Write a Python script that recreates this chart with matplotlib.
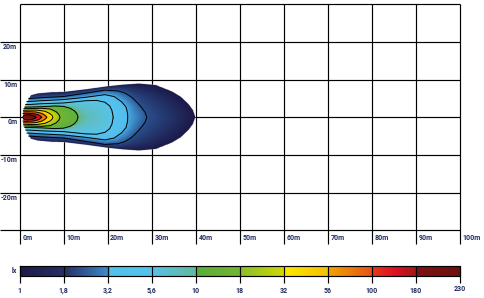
import numpy as np
import matplotlib
matplotlib.use("Agg")
import matplotlib.pyplot as plt
from matplotlib.colors import LinearSegmentedColormap

# ---------------- data ----------------
lux_levels = [1, 1.8, 3.2, 5.6, 10, 18, 32, 56, 100, 180, 230]
lux_labels = ["1", "1,8", "3,2", "5,6", "10", "18", "32", "56", "100", "180", "230"]

x_ticks = [0, 10, 20, 30, 40, 50, 60, 70, 80, 90, 100]
x_tick_labels = ["0m", "10m", "20m", "30m", "40m", "50m", "60m", "70m", "80m", "90m", "100m"]
y_ticks = [20, 10, 0, -10, -20]
y_tick_labels = ["20m", "10m", "0m", "-10m", "-20m"]

# isolux outlines: distance (m) and half width (m)
c1_x = [0, 2.4, 4, 7, 10, 15, 20, 23.2, 27, 30.8, 34.5, 36.5, 38.3, 39.3, 39.8]
c1_w = [5.8, 5.8, 6.3, 6.6, 6.7, 7.4, 8.2, 8.6, 8.9, 8.5, 6.8, 5.4, 3.4, 1.8, 0]
c18_x = [0, 2.4, 5, 10, 15, 19.4, 22.4, 24, 25.5, 26.8, 27.7, 28.5, 28.9]
c18_w = [5.0, 5.0, 5.2, 5.5, 6.4, 7.2, 7.0, 6.4, 5.3, 3.8, 2.6, 1.3, 0]
c32_x = [0, 2.4, 5, 10, 15, 19.4, 21.5, 23.2, 24.2, 24.5, 24.6]
c32_w = [4.2, 4.2, 4.4, 4.7, 5.3, 6.0, 5.5, 4.1, 2.7, 1.2, 0]
c56_x = [0, 2.4, 5, 10, 15, 17.5, 19.4, 20.5, 21.0, 21.3]
c56_w = [3.4, 3.4, 3.6, 3.8, 4.4, 4.5, 4.0, 3.0, 1.8, 0]
c10_x = [0, 2.4, 5, 8, 10, 11.5, 12.5, 13.0, 13.3]
c10_w = [2.7, 2.7, 2.8, 3.0, 2.9, 2.4, 1.7, 1.0, 0]
c18b_x = [0, 2.4, 5, 7, 8.3, 8.9, 9.2]
c18b_w = [2.3, 2.3, 2.4, 2.2, 1.5, 0.8, 0]
c32b_x = [0, 2, 4, 5.8, 6.9, 7.4, 7.6]
c32b_w = [1.8, 1.9, 1.9, 1.6, 1.0, 0.5, 0]
c56b_x = [0, 2, 3.8, 5.1, 5.8, 6.2]
c56b_w = [1.4, 1.5, 1.4, 1.0, 0.5, 0]
c100_x = [0.2, 1.5, 3.0, 4.2, 4.7, 5.0]
c100_w = [0.9, 1.1, 1.0, 0.7, 0.35, 0]
c180_x = [0.7, 1.0, 1.8, 2.8, 3.4, 3.8]
c180_w = [0, 0.5, 0.7, 0.55, 0.3, 0]

# rear cut-off edge of the beam
left_edge_y = [0, 1, 2, 3, 4, 5, 5.8, 9]
left_edge_x = [0.6, 0.65, 0.8, 1.1, 1.5, 2.0, 2.4, 2.4]

# colours of the lux scale
bar_stops = [0.0, 0.099, 0.101, 0.199, 0.201, 0.299, 0.301, 0.399, 0.401, 0.499,
             0.501, 0.599, 0.601, 0.699, 0.701, 0.799, 0.801, 0.85, 0.899, 0.901, 1.0]
bar_colors = ["#1d1a4a", "#262f66", "#253268", "#3b8ccb", "#54c1ee", "#56c3ec", "#58c2e4",
              "#64b8a0", "#5aae3c", "#74b530", "#88bf2c", "#d2d800", "#fce800", "#f8c000",
              "#f2a400", "#e85418", "#e43a1c", "#e01020", "#a31818", "#7c1414", "#6e1010"]
beam_stops = [0.0, 0.099, 0.101, 0.199, 0.201, 0.299, 0.301, 0.36, 0.399, 0.401, 0.499,
              0.501, 0.599, 0.601, 0.699, 0.701, 0.799, 0.801, 0.85, 0.899, 0.901, 1.0]
beam_colors = ["#1c1947", "#2a4f8e", "#2c5696", "#46a8e0", "#50bcec", "#56c4ee", "#58c4ec",
               "#5ebec0", "#66b67c", "#5cb040", "#74b530", "#88bf2c", "#d2d800", "#fce800",
               "#f8c000", "#f2a400", "#e85418", "#e43a1c", "#e01020", "#a31818", "#7c1414",
               "#6e1010"]

label_color = "#1f2a5e"
font = "Roboto"
fs = 5

# ---------------- figure ----------------
fig = plt.figure(figsize=(4.84, 2.98), dpi=100)
ax = fig.add_axes([0, 0, 1, 1])
ax.set_xlim(-4.427, 105.45)
ax.set_ylim(-47.93, 31.11)
ax.axis("off")

# grid
for xv in x_ticks:
    ax.plot([xv, xv], [-33.6, 30], color="black", lw=0.85, zorder=1, solid_capstyle="butt")
for yv in [20, 10, 0, -10, -20, -30]:
    ax.plot([-4.427, 100], [yv, yv], color="black", lw=0.85, zorder=1, solid_capstyle="butt")
ax.plot([0, 100], [30, 30], color="black", lw=0.85, zorder=1, solid_capstyle="butt")

for yv, lab in zip(y_ticks, y_tick_labels):
    ax.text(-0.5, yv - 0.25, lab, ha="right", va="top", fontsize=fs, color=label_color,
            family=font, fontweight="bold")
for xv, lab in zip(x_ticks, x_tick_labels):
    ax.text(xv + 0.6, -31.0, lab, ha="left", va="top", fontsize=fs, color=label_color,
            family=font, fontweight="bold")

# ---- beam field interpolated between the isolux outlines ----
profiles = [(c1_x, c1_w), (c18_x, c18_w), (c32_x, c32_w), (c56_x, c56_w), (c10_x, c10_w),
            (c18b_x, c18b_w), (c32b_x, c32b_w), (c56b_x, c56b_w), (c100_x, c100_w),
            (c180_x, c180_w)]
nlev = len(profiles)

# dense outlines (nested)
xd = np.linspace(0, 41, 1641)
Wd = np.array([np.interp(xd, px, pw, left=0, right=0) for px, pw in profiles])
for k in range(1, nlev):
    Wd[k] = np.minimum(Wd[k], Wd[k - 1])
outlines = []
for k in range(nlev):
    pos = Wd[k] > 0
    ext = pos.copy()
    ext[:-1] |= pos[1:]
    ext[1:] |= pos[:-1]
    outlines.append(np.column_stack([xd[ext], Wd[k][ext]]).astype(np.float32))

# grid (upper half, mirrored later)
xs = np.linspace(0, 41, 411)
ys = np.linspace(0, 10, 201)
X, Yu = np.meshgrid(xs, ys)
Wg = np.array([np.interp(xs, px, pw, left=0, right=0) for px, pw in profiles])
for k in range(1, nlev):
    Wg[k] = np.minimum(Wg[k], Wg[k - 1])
inside = Yu[None, :, :] < Wg[:, None, :]
cnt = inside.sum(0)
band = cnt - 1

P = np.column_stack([X.ravel(), Yu.ravel()]).astype(np.float32)
dist = np.full((nlev, P.shape[0]), np.inf, dtype=np.float32)
chunk = 1500
for k in range(nlev):
    Q = outlines[k]
    for s in range(0, P.shape[0], chunk):
        p = P[s:s + chunk]
        d2 = (p[:, None, 0] - Q[None, :, 0]) ** 2 + (p[:, None, 1] - Q[None, :, 1]) ** 2
        dist[k, s:s + chunk] = np.sqrt(d2.min(1))
dist = dist.reshape(nlev, *X.shape)

t = np.full(X.shape, np.nan)
for k in range(nlev):
    m = band == k
    if k < nlev - 1:
        dk = dist[k][m]
        dk1 = dist[k + 1][m]
        t[m] = k + dk / np.maximum(dk + dk1, 1e-6)
    else:
        t[m] = k + 0.99 * np.minimum(dist[k][m] / 0.6, 1.0)

xl = np.interp(Yu, left_edge_y, left_edge_x)
valid = (cnt > 0) & (X >= xl)
t = np.where(valid, t, np.nan)

# mirror to the full beam
T_full = np.vstack([t[::-1][:-1], t])
Y_full = np.concatenate([-ys[::-1][:-1], ys])
X_full, YY = np.meshgrid(xs, Y_full)
T = np.ma.masked_invalid(T_full)

beam_cmap = LinearSegmentedColormap.from_list("beam", list(zip(beam_stops, beam_colors)))
beam_cmap.set_bad((1, 1, 1, 0))
bar_cmap = LinearSegmentedColormap.from_list("bar", list(zip(bar_stops, bar_colors)))

ax.imshow(T, extent=[xs[0], xs[-1], Y_full[0], Y_full[-1]], origin="lower", cmap=beam_cmap,
          vmin=0, vmax=10, aspect="auto", interpolation="bilinear", zorder=2)
ax.contour(X_full, YY, T, levels=list(range(1, 10)), colors="black", linewidths=0.7,
           zorder=3)

# ---- lux colour bar ----
bar_top, bar_bot = -39.44, -42.09
grad = np.linspace(0, 10, 800)[None, :]
ax.imshow(grad, extent=[0, 100, bar_bot, bar_top], cmap=bar_cmap, vmin=0, vmax=10,
          aspect="auto", interpolation="bilinear", zorder=2)
ax.plot([0, 100, 100, 0, 0], [bar_top, bar_top, bar_bot, bar_bot, bar_top], color="black",
        lw=0.85, zorder=3)
for i, lab in enumerate(lux_labels):
    xv = i * 10
    ax.plot([xv, xv], [bar_top, -43.95], color="black", lw=0.85, zorder=3,
            solid_capstyle="butt")
    ax.text(xv, -44.5 if i == len(lux_labels) - 1 else -45.0, lab, ha="center", va="top",
            fontsize=fs, color=label_color, family=font, fontweight="bold")
ax.text(-0.5, -40.8, "lx", ha="right", va="center", fontsize=fs, color=label_color,
        family=font, fontweight="bold")

fig.savefig("out.png", dpi=100)
